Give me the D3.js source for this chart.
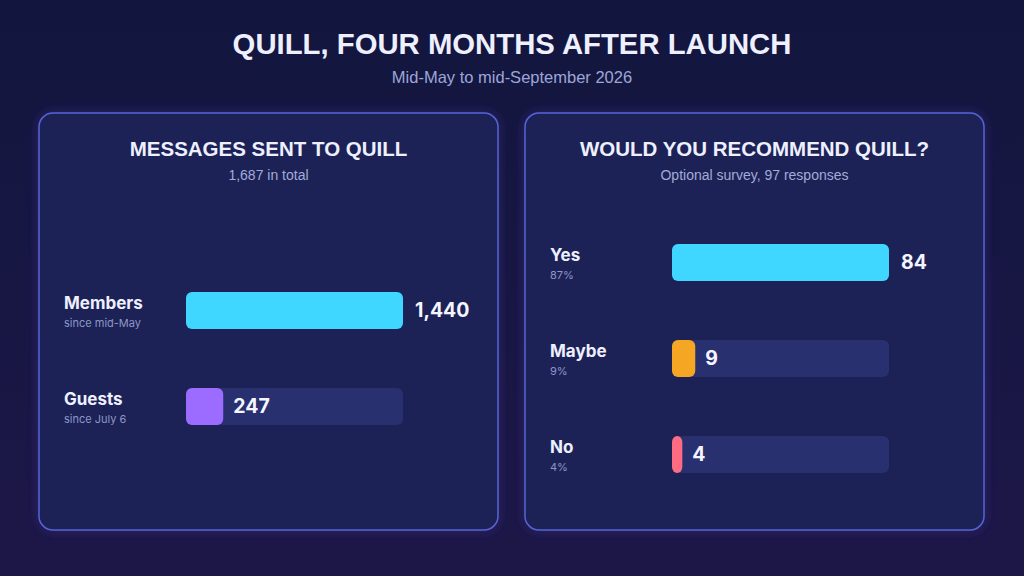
<!DOCTYPE html>
<html><head><meta charset="utf-8">
<script src="https://cdn.jsdelivr.net/npm/d3@7"></script>
<style>html,body{margin:0;padding:0;background:#12163e;}svg{display:block;}</style>
</head><body>
<script>
const title = "QUILL, FOUR MONTHS AFTER LAUNCH";
const subtitle = "Mid-May to mid-September 2026";

const msgTitle = "MESSAGES SENT TO QUILL";
const msgSub = "1,687 in total";
const msgCats = ["Members", "Guests"];
const msgNotes = ["since mid-May", "since July 6"];
const msgValues = [1440, 247];
const msgColors = ["#3fd6ff", "#9b6cff"];

const recTitle = "WOULD YOU RECOMMEND QUILL?";
const recSub = "Optional survey, 97 responses";
const recCats = ["Yes", "Maybe", "No"];
const recNotes = ["87%", "9%", "4%"];
const recValues = [84, 9, 4];
const recColors = ["#3fd6ff", "#f5a623", "#ff6b81"];

const W = 1024, H = 576;
const svg = d3.select("body").append("svg").attr("width", W).attr("height", H);
const defs = svg.append("defs");
const bg = defs.append("linearGradient").attr("id","bg").attr("x1",0).attr("y1",0).attr("x2",0).attr("y2",1);
bg.append("stop").attr("offset","0%").attr("stop-color","#12163e");
bg.append("stop").attr("offset","100%").attr("stop-color","#1d1748");
const glow = defs.append("filter").attr("id","glow").attr("x","-10%").attr("y","-10%").attr("width","120%").attr("height","120%");
glow.append("feGaussianBlur").attr("in","SourceAlpha").attr("stdDeviation",6).attr("result","b");
glow.append("feFlood").attr("flood-color","#3a2f8a").attr("flood-opacity",0.55);
glow.append("feComposite").attr("in2","b").attr("operator","in").attr("result","s");
const m = glow.append("feMerge"); m.append("feMergeNode").attr("in","s"); m.append("feMergeNode").attr("in","SourceGraphic");

svg.append("rect").attr("width",W).attr("height",H).attr("fill","url(#bg)");

const headFont = "'Liberation Sans', Arial, sans-serif";
const bodyFont = "Inter, 'Noto Sans', sans-serif";

svg.append("text").attr("x",512).attr("y",54).attr("text-anchor","middle")
  .attr("font-family",headFont).attr("font-weight","bold").attr("font-size",29.3)
  .attr("fill","#eef0ff").text(title);
svg.append("text").attr("x",512).attr("y",83).attr("text-anchor","middle")
  .attr("font-family",headFont).attr("font-size",16.5).attr("fill","#9ea6d8").text(subtitle);

function panel(x0, ttl, sub, cats, notes, values, colors, ys) {
  const g = svg.append("g");
  const pw = 459, ph = 417, py = 113;
  g.append("rect").attr("x",x0).attr("y",py).attr("width",pw).attr("height",ph)
    .attr("rx",14).attr("fill","#1c2155").attr("stroke","#5563d6").attr("stroke-width",1.5)
    .attr("filter","url(#glow)");
  const cx = x0 + pw/2;
  g.append("text").attr("x",cx).attr("y",156).attr("text-anchor","middle")
    .attr("font-family",headFont).attr("font-weight","bold").attr("font-size",20.5)
    .attr("fill","#eef0ff").text(ttl);
  g.append("text").attr("x",cx).attr("y",180).attr("text-anchor","middle")
    .attr("font-family",headFont).attr("font-size",14).attr("fill","#a3abd9").text(sub);

  const x = d3.scaleLinear().domain([0, d3.max(values)]).range([0, 217]);
  const y = d3.scalePoint().domain(cats).range(ys);
  const bx = x0 + 147, bh = 37;
  const rows = g.selectAll("g.row").data(cats).join("g").attr("class","row");
  rows.append("rect").attr("x",bx).attr("y",d=>y(d)).attr("width",x(d3.max(values))).attr("height",bh)
    .attr("rx",6).attr("fill","#283070");
  rows.append("rect").attr("x",bx).attr("y",d=>y(d)).attr("width",(d,i)=>x(values[i])).attr("height",bh)
    .attr("rx",6).attr("fill",(d,i)=>colors[i]);
  rows.append("text").attr("x",x0+25).attr("y",d=>y(d)+17)
    .attr("font-family",bodyFont).attr("font-weight","bold").attr("font-size",17)
    .attr("fill","#eef0ff").text(d=>d);
  rows.append("text").attr("x",x0+25).attr("y",d=>y(d)+35)
    .attr("font-family",bodyFont).attr("font-size",11).attr("fill","#8e96c8").text((d,i)=>notes[i]);
  rows.append("text")
    .attr("x",(d,i)=>bx + x(values[i]) + (values[i]===d3.max(values) ? 12 : 10))
    .attr("y",d=>y(d)+bh/2+6.5)
    .attr("font-family",bodyFont).attr("font-weight","bold").attr("font-size",19.5)
    .attr("fill","#f4f5ff").text((d,i)=>d3.format(",")(values[i]));
}

panel(39, msgTitle, msgSub, msgCats, msgNotes, msgValues, msgColors, [292, 388]);
panel(525, recTitle, recSub, recCats, recNotes, recValues, recColors, [244, 436]);
</script>
</body></html>
